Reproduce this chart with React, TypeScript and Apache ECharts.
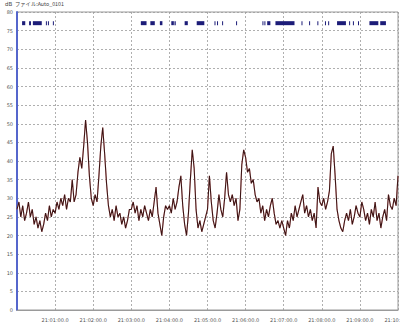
import React, { useEffect, useRef } from "react";
import * as echarts from "echarts";

// Sound level trace, one sample every 3 s from 21:00:00 (dB)
const SAMPLE_STEP = 3;
const levels = [
  27, 29, 25, 28, 24, 26, 29, 25, 27, 23, 25, 22, 24, 21, 23, 26, 24, 28, 25, 27,
  26, 29, 27, 30, 28, 31, 27, 30, 29, 35, 29, 31, 37, 41, 38, 44,
  51, 45, 36, 30, 28, 31, 29, 36, 44, 49, 42, 34, 28, 25, 27, 24, 28, 25, 26, 23, 25, 22, 24, 27,
  27, 29, 26, 28, 24, 27, 25, 28, 26, 24, 27, 25, 29, 33, 26, 23, 20, 25, 28, 27,
  28, 26, 30, 27, 29, 33, 36, 28, 23, 20, 26, 35, 43, 38, 27, 22, 24, 21, 23, 25,
  27, 36, 29, 24, 22, 26, 31, 27, 25, 30, 37, 31, 29, 31, 28, 30, 24, 27, 39, 43,
  41, 37, 38, 34, 35, 31, 29, 30, 26, 28, 24, 27, 25, 28, 30, 26, 23, 24, 22, 24,
  22, 20, 24, 22, 26, 24, 28, 25, 27, 29, 31, 26, 28, 25, 27, 24, 26, 22, 33, 29,
  28, 30, 27, 29, 32, 42, 44, 36, 27, 24, 22, 21, 24, 26, 24, 27, 23, 25, 28, 26,
  25, 29, 27, 24, 26, 23, 27, 25, 29, 24, 26, 22, 25, 27, 24, 31, 28, 27, 30, 28, 36,
];

// Event markers: [start s, end s]
const markerStarts = [8, 19, 25, 45.5, 48.7, 56.5, 195, 210, 225, 243, 248, 264, 283, 311, 315, 323, 345, 386.5, 389.6, 394, 407, 448, 460, 473, 485, 490, 504, 523, 529, 537, 555, 572];
const markerEnds = [13, 22, 39, 47, 50, 57.5, 204, 217, 229, 247, 250, 269, 295, 312, 316, 324, 346, 387.5, 390.6, 399, 437, 449, 461, 474, 486, 491, 518, 524, 530, 538, 569, 581];
const MARKER_LEVEL = 77;

const xTickMinutes = ["00", "01", "02", "03", "04", "05", "06", "07", "08", "09", "10"];

export default function App() {
  const ref = useRef<HTMLDivElement>(null);
  useEffect(() => {
    if (!ref.current) return;
    const chart = echarts.init(ref.current, null, { renderer: "svg" });
    const lineData = levels.map((v, i) => [i * SAMPLE_STEP, v]);
    const markerData = markerStarts.map((s, i) => [s, markerEnds[i], MARKER_LEVEL]);
    chart.setOption({
      animation: false,
      backgroundColor: "#ffffff",
      textStyle: { fontFamily: "DejaVu Sans" },
      graphic: [
        { type: "text", left: 5, top: 1, style: { text: "dB", fontSize: 5.5, fill: "#444", fontFamily: "DejaVu Sans" } },
        { type: "text", left: 15, top: 1, style: { text: "ファイル:Auto_0101", fontSize: 5.3, fill: "#444", fontFamily: "Noto Sans CJK JP" } },
      ],
      grid: {
        left: 17, right: 2, top: 12, bottom: 14,
        show: true, borderColor: "#9a9a9a", borderWidth: 1,
        containLabel: false, outerBoundsMode: "none",
      },
      xAxis: {
        type: "value",
        min: 0,
        max: 600,
        interval: 60,
        axisLine: { show: true, lineStyle: { color: "#9a9a9a", width: 1 } },
        axisTick: { show: false },
        splitLine: { show: true, lineStyle: { color: "#9a9a9a", type: [2, 2], width: 0.8 } },
        axisLabel: {
          fontSize: 5,
          color: "#555",
          margin: 7,
          showMaxLabel: true,
          alignMaxLabel: "center",
          hideOverlap: false,
          formatter: (v: number) => {
            const idx = Math.round(v / 60);
            if (idx === 0) return "";
            return "21:" + xTickMinutes[idx] + ":00.0";
          },
        },
      },
      yAxis: {
        type: "value",
        min: 0,
        max: 80,
        interval: 5,
        axisLine: { show: true, lineStyle: { color: "#5566cc", width: 2 } },
        axisTick: { show: false },
        splitLine: { show: true, lineStyle: { color: "#9a9a9a", type: [2, 2], width: 0.8 } },
        axisLabel: { fontSize: 5, color: "#555", margin: 4 },
      },
      series: [
        {
          type: "line",
          data: lineData,
          showSymbol: false,
          symbol: "none",
          lineStyle: { color: "#3a1212", width: 1.1, shadowColor: "rgba(190,110,110,0.9)", shadowBlur: 1.5 },
          z: 3,
        },
        {
          type: "custom",
          data: markerData,
          encode: { x: [0, 1], y: 2 },
          renderItem: (params: any, api: any) => {
            const s = api.coord([api.value(0), api.value(2)]);
            const e = api.coord([api.value(1), api.value(2)]);
            return {
              type: "rect",
              shape: { x: s[0], y: s[1] - 2, width: Math.max(e[0] - s[0], 1), height: 4 },
              style: { fill: "#1c1c78" },
            };
          },
          z: 4,
        },
      ],
    });
    return () => chart.dispose();
  }, []);
  return <div ref={ref} style={{ position: "fixed", left: 0, top: 0, width: 400, height: 324 }} />;
}
